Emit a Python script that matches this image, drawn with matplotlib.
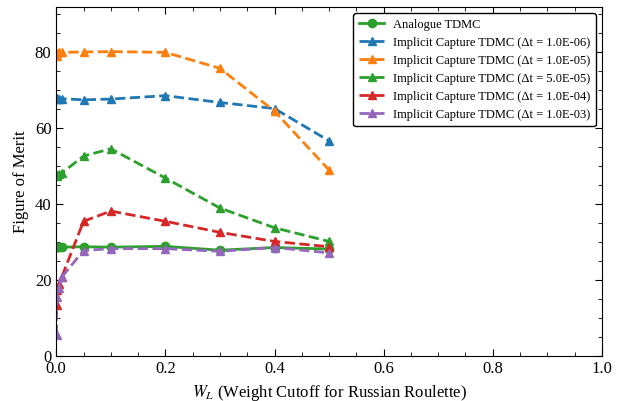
import numpy as np
import matplotlib.pyplot as plt
from matplotlib.ticker import MultipleLocator

plt.rcParams['font.family'] = ['Liberation Serif', 'DejaVu Serif']
plt.rcParams['mathtext.fontset'] = 'stix'

# weight cutoff values
w_cut = [0.0005, 0.001, 0.005, 0.01, 0.05, 0.1, 0.2, 0.3, 0.4, 0.5]

analogue = [28.7, 28.7, 28.7, 28.7, 28.8, 28.7, 28.9, 27.9, 28.6, 28.2]
ic_1e6 = [67.8, 67.9, 67.8, 67.8, 67.5, 67.7, 68.6, 66.8, 65.2, 56.7]
ic_1e5 = [79.0, 79.8, 80.0, 80.0, 80.1, 80.2, 80.0, 75.8, 64.5, 49.0]
ic_5e5 = [47.4, 47.6, 47.9, 48.2, 52.7, 54.6, 46.9, 39.0, 33.8, 30.2]
ic_1e4 = [13.5, 17.4, 19.0, 20.8, 35.5, 38.2, 35.5, 32.6, 30.2, 28.8]
ic_1e3 = [5.5, 15.5, 18.0, 20.8, 27.8, 28.3, 28.3, 27.6, 28.6, 27.2]

series = [
    ('Implicit Capture TDMC (Δt = 1.0E-06)', ic_1e6, 'tab:blue'),
    ('Implicit Capture TDMC (Δt = 1.0E-05)', ic_1e5, 'tab:orange'),
    ('Implicit Capture TDMC (Δt = 5.0E-05)', ic_5e5, 'tab:green'),
    ('Implicit Capture TDMC (Δt = 1.0E-04)', ic_1e4, 'tab:red'),
    ('Implicit Capture TDMC (Δt = 1.0E-03)', ic_1e3, 'tab:purple'),
]

fig = plt.figure(figsize=(6.25, 4.01), dpi=100)
ax = fig.add_axes([0.09, 0.112, 0.873, 0.871])

ax.plot(w_cut, analogue, '-o', color='tab:green', lw=2, ms=6, label='Analogue TDMC')
for label, vals, col in series:
    ax.plot(w_cut, vals, '--^', color=col, lw=2, ms=6, label=label)

ax.set_xlim(0, 1)
ax.set_ylim(0, 92)
ax.xaxis.set_major_locator(MultipleLocator(0.2))
ax.xaxis.set_minor_locator(MultipleLocator(0.05))
ax.yaxis.set_major_locator(MultipleLocator(20))
ax.yaxis.set_minor_locator(MultipleLocator(5))
ax.tick_params(which='both', direction='in', top=True, right=True, labelsize=12)
ax.tick_params(which='major', length=5)
ax.tick_params(which='minor', length=3)

ax.set_xlabel('$W_L$ (Weight Cutoff for Russian Roulette)', fontsize=12)
ax.set_ylabel('Figure of Merit', fontsize=12)

leg = ax.legend(loc='upper right', fontsize=9, frameon=True, fancybox=True,
                framealpha=1, edgecolor='black', handlelength=2.0,
                handletextpad=0.7, borderpad=0.45, labelspacing=0.48)
leg.get_frame().set_linewidth(1.0)

fig.savefig('out.png', dpi=100)
